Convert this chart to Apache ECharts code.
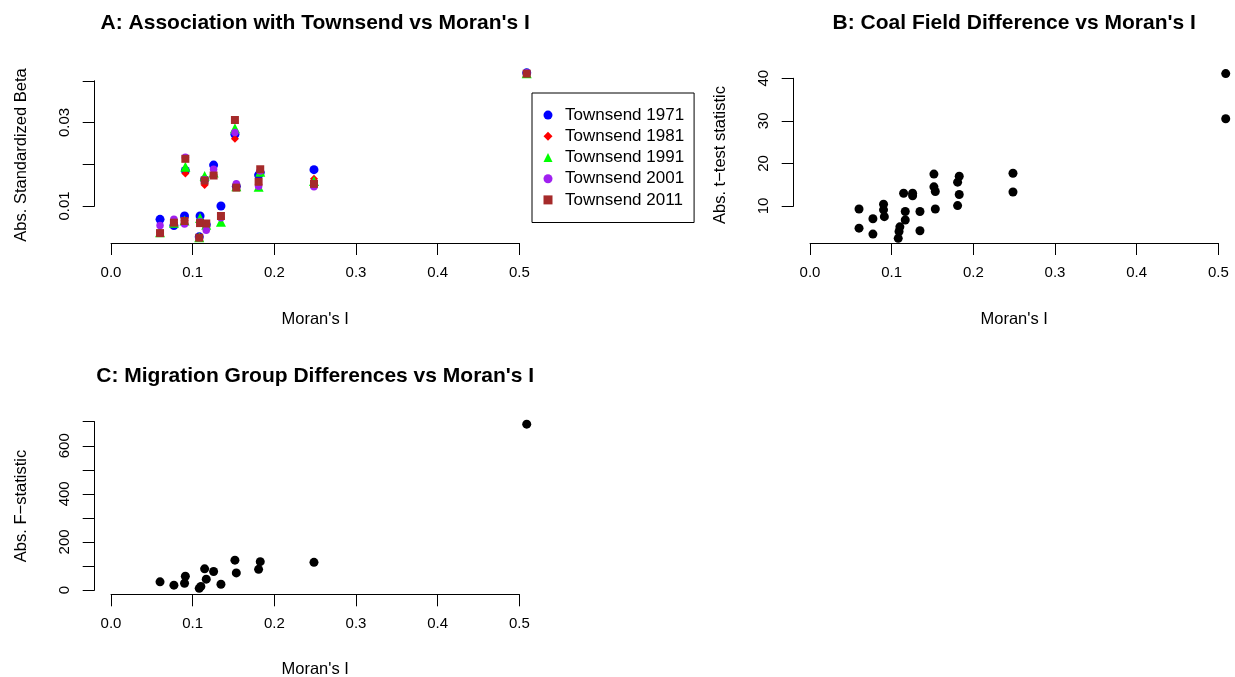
<!DOCTYPE html>
<html><head><meta charset="utf-8">
<script src="https://cdn.jsdelivr.net/npm/echarts@6/dist/echarts.min.js"></script>
<style>html,body{margin:0;padding:0;background:#fff}#c{width:1235px;height:677px}</style>
</head><body><div id="c"></div>
<script>
// ---- Data ----
const moranI      = [0.060, 0.077, 0.090, 0.091, 0.108, 0.109, 0.1146, 0.1166, 0.1256, 0.1346, 0.1517, 0.1534, 0.1807, 0.1827, 0.2485, 0.509];
const townsend1971 = [0.0068, 0.0053, 0.0076, 0.0185, 0.0026, 0.0076, 0.0163, 0.0055, 0.0198, 0.0100, 0.0272, 0.0147, 0.0174, 0.0180, 0.0187, 0.0419];
const townsend1981 = [0.0037, 0.0060, 0.0065, 0.0178, 0.0025, 0.0065, 0.0150, 0.0055, 0.0175, 0.0070, 0.0261, 0.0147, 0.0152, 0.0183, 0.0165, 0.0417];
const townsend1991 = [0.0037, 0.0060, 0.0065, 0.0194, 0.0025, 0.0071, 0.0172, 0.0055, 0.0180, 0.0062, 0.0286, 0.0147, 0.0146, 0.0182, 0.0160, 0.0418];
const townsend2001 = [0.0053, 0.0068, 0.0057, 0.0217, 0.0024, 0.0062, 0.0163, 0.0042, 0.0188, 0.0072, 0.0276, 0.0153, 0.0147, 0.0184, 0.0146, 0.0419];
const townsend2011 = [0.0035, 0.0060, 0.0064, 0.0213, 0.0024, 0.0059, 0.0161, 0.0058, 0.0173, 0.0076, 0.0306, 0.0144, 0.0158, 0.0188, 0.0153, 0.0417];

const coalMoran = [0.060, 0.060, 0.077, 0.077, 0.090, 0.090, 0.091, 0.108, 0.109, 0.110, 0.1146, 0.1166, 0.1166, 0.1256, 0.1256, 0.1346, 0.1346, 0.1517, 0.1517, 0.1534, 0.1534, 0.1807, 0.1827, 0.1827, 0.1807, 0.2485, 0.2485, 0.509, 0.509];
const coalT     = [9.3, 4.8, 7.0, 3.4, 10.4, 9.1, 7.5, 2.4, 4.0, 5.1, 13.0, 8.7, 6.7, 13.0, 12.4, 8.7, 4.2, 17.5, 14.5, 13.4, 9.3, 15.6, 17.0, 12.7, 10.1, 17.7, 13.3, 41.1, 30.5];

const migMoran = [0.060, 0.077, 0.090, 0.091, 0.108, 0.110, 0.1146, 0.1166, 0.1256, 0.1346, 0.1517, 0.1534, 0.1807, 0.1827, 0.2485, 0.509];
const migF     = [34, 20, 28, 57, 7, 15, 88, 45, 77, 24, 124, 71, 86, 118, 115, 690];

const seriesNames = ['Townsend 1971', 'Townsend 1981', 'Townsend 1991', 'Townsend 2001', 'Townsend 2011'];

const xTicks = [0, 0.1, 0.2, 0.3, 0.4, 0.5];
const xTickLabels = ['0.0', '0.1', '0.2', '0.3', '0.4', '0.5'];
const yTicksA = [0.01, 0.02, 0.03, 0.04];
const yTickLabelsA = ['0.01', '', '0.03', ''];
const yTicksB = [10, 20, 30, 40];
const yTickLabelsB = ['10', '20', '30', '40'];
const yTicksC = [0, 100, 200, 300, 400, 500, 600, 700];
const yTickLabelsC = ['0', '', '200', '', '400', '', '600', ''];

// ---- Layout / styles ----
const FONT = '"Liberation Sans", Arial, sans-serif';
const grids = [], xAxes = [], yAxes = [];
function lookup(ticks, labels) {
  const step = ticks[1] - ticks[0];
  return function (v) {
    for (let i = 0; i < ticks.length; i++) if (Math.abs(ticks[i] - v) < step * 1e-6) return labels[i];
    return '';
  };
}
const lineBlack = { color: '#000', width: 1 };
const tickLabelStyle = { color: '#000', fontSize: 15, fontFamily: FONT, margin: 22 };
function buildPanel(box, xr, yr, xt, xtl, yt, ytl) {
  const [l, t, w, h] = box;
  const gi = grids.length;
  // main plotting region
  grids.push({ left: l, top: t, width: w, height: h, outerBoundsMode: 'none' });
  xAxes.push({ gridIndex: gi, type: 'value', min: xr[0], max: xr[1], show: false });
  yAxes.push({ gridIndex: gi, type: 'value', min: yr[0], max: yr[1], show: false });
  // x axis spanning the ticks only (R style)
  const x0 = xt[0], xN = xt[xt.length - 1];
  const xl = l + (x0 - xr[0]) / (xr[1] - xr[0]) * w;
  const xw = (xN - x0) / (xr[1] - xr[0]) * w;
  grids.push({ left: xl, top: t, width: xw, height: h, outerBoundsMode: 'none' });
  xAxes.push({
    gridIndex: gi + 1, type: 'value', position: 'bottom', min: x0, max: xN, interval: xt[1] - xt[0],
    axisLine: { show: true, onZero: false, lineStyle: lineBlack },
    axisTick: { show: true, length: 12, lineStyle: lineBlack },
    splitLine: { show: false },
    axisLabel: Object.assign({ formatter: lookup(xt, xtl), showMinLabel: true, showMaxLabel: true, hideOverlap: false }, tickLabelStyle)
  });
  yAxes.push({ gridIndex: gi + 1, type: 'value', min: 0, max: 1, show: false });
  // y axis spanning the ticks only
  const y0 = yt[0], yN = yt[yt.length - 1];
  const yTop = t + (yr[1] - yN) / (yr[1] - yr[0]) * h;
  const yH = (yN - y0) / (yr[1] - yr[0]) * h;
  grids.push({ left: l, top: yTop, width: w, height: yH, outerBoundsMode: 'none' });
  xAxes.push({ gridIndex: gi + 2, type: 'value', min: 0, max: 1, show: false });
  yAxes.push({
    gridIndex: gi + 2, type: 'value', position: 'left', min: y0, max: yN, interval: yt[1] - yt[0],
    axisLine: { show: true, onZero: false, lineStyle: lineBlack },
    axisTick: { show: true, length: 12, lineStyle: lineBlack },
    splitLine: { show: false },
    axisLabel: Object.assign({ formatter: lookup(yt, ytl), rotate: 90, showMinLabel: true, showMaxLabel: true, hideOverlap: false }, tickLabelStyle)
  });
  return gi;
}

const gA = buildPanel([94.7, 67, 441, 176], [-0.02, 0.52], [0.00113, 0.0433], xTicks, xTickLabels, yTicksA, yTickLabelsA);
const gB = buildPanel([793.7, 67, 441, 176], [-0.02, 0.52], [1.31, 42.65], xTicks, xTickLabels, yTicksB, yTickLabelsB);
const gC = buildPanel([94.7, 418, 441, 176.3], [-0.02, 0.52], [-17.9, 715.5], xTicks, xTickLabels, yTicksC, yTickLabelsC);

function pairs(xs, ys) { return xs.map((x, i) => [x, ys[i]]); }

const townsendSeries = [townsend1971, townsend1981, townsend1991, townsend2001, townsend2011];
const tColors = ['#0000FF', '#FF0000', '#00FF00', '#A020F0', '#A52A2A'];
const tSymbols = ['circle', 'diamond', 'triangle', 'circle', 'rect'];
const tSizes = [9, 8, 10, 7.5, 8];

const series = townsendSeries.map((vals, i) => ({
  name: seriesNames[i], type: 'scatter', xAxisIndex: gA, yAxisIndex: gA,
  data: pairs(moranI, vals), symbol: tSymbols[i], symbolSize: tSizes[i],
  itemStyle: { color: tColors[i], opacity: 1 }, silent: true, z: 2 + i
}));
series.push({ name: 'coal', type: 'scatter', xAxisIndex: gB, yAxisIndex: gB, data: pairs(coalMoran, coalT),
  symbol: 'circle', symbolSize: 9, itemStyle: { color: '#000', opacity: 1 }, silent: true });
series.push({ name: 'migration', type: 'scatter', xAxisIndex: gC, yAxisIndex: gC, data: pairs(migMoran, migF),
  symbol: 'circle', symbolSize: 9, itemStyle: { color: '#000', opacity: 1 }, silent: true });

function txt(x, y, text, size, bold, rot) {
  return { type: 'text', x: x, y: y, rotation: rot || 0, silent: true,
    style: { text: text, fill: '#000', align: 'center', verticalAlign: 'middle',
      font: (bold ? 'bold ' : '') + size + 'px ' + FONT } };
}

const option = {
  animation: false,
  backgroundColor: '#fff',
  grid: grids, xAxis: xAxes, yAxis: yAxes,
  legend: {
    left: 532, top: 93, orient: 'vertical',
    padding: [11.5, 10, 12, 11.5], itemGap: 0, itemWidth: 9, itemHeight: 9,
    borderColor: '#000', borderWidth: 1, borderRadius: 0, backgroundColor: '#fff',
    selectedMode: false,
    textStyle: { fontSize: 17, fontFamily: FONT, color: '#000', lineHeight: 21.2, padding: [0, 0, 0, 7.5] },
    data: seriesNames.map((n, i) => ({ name: n, icon: tSymbols[i] }))
  },
  graphic: [
    txt(315.2, 23, "A: Association with Townsend vs Moran's I", 21, true),
    txt(1014.2, 23, "B: Coal Field Difference vs Moran's I", 21, true),
    txt(315.2, 376, "C: Migration Group Differences vs Moran's I", 21, true),
    txt(315.2, 319, "Moran's I", 16.5),
    txt(1014.2, 319, "Moran's I", 16.5),
    txt(315.2, 669, "Moran's I", 16.5),
    txt(21.5, 155, 'Abs. Standardized Beta', 16.5, false, Math.PI / 2),
    txt(720.5, 155, 'Abs. t\u2212test statistic', 16.5, false, Math.PI / 2),
    txt(21.5, 506, 'Abs. F\u2212statistic', 16.5, false, Math.PI / 2)
  ],
  series: series
};
const chart = echarts.init(document.getElementById('c'), null, { renderer: 'canvas' });
chart.setOption(option);
</script>
</body></html>
